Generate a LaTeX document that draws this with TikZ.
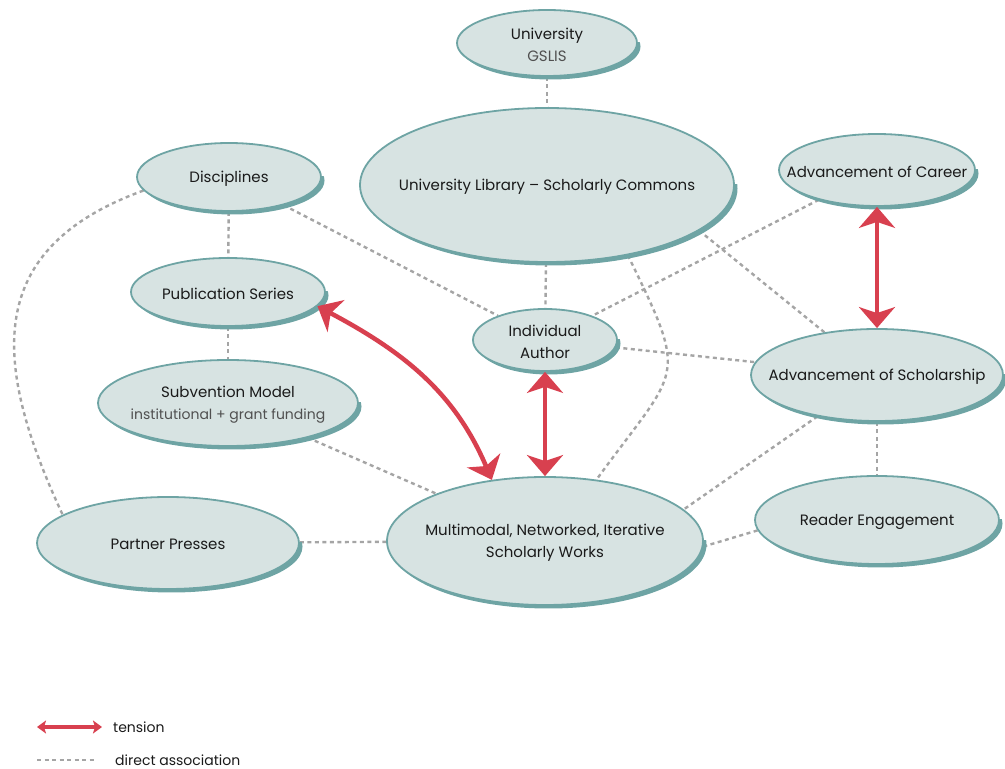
\documentclass[tikz,border=0pt]{standalone}
\usepackage{fontspec}
\setmainfont{Poppins}
\usetikzlibrary{shapes.geometric,arrows.meta,backgrounds}
\definecolor{bubblefill}{HTML}{D7E3E2}
\definecolor{rimteal}{HTML}{6EA4A4}
\definecolor{assocgray}{HTML}{A5A5A5}
\definecolor{tensionred}{HTML}{D8404F}
\definecolor{subgray}{HTML}{505050}
\definecolor{inkblack}{HTML}{1A1A1A}
\newcommand{\subline}[1]{{\color{subgray}#1}}
\newcommand{\smallsubline}[1]{{\color{subgray}\fontsize{14}{20}\selectfont #1}}
\tikzset{
  bubble/.style={ellipse, draw=rimteal, line width=1.8pt, fill=bubblefill, inner sep=0pt},
  bubbletext/.style={align=center, text=inkblack, font=\fontsize{15}{22}\selectfont, inner sep=0pt, yshift=-1.5pt},
  assocline/.style={draw=assocgray, line width=2.4pt, dash pattern=on 4pt off 3.5pt},
  tensionline/.style={draw=tensionred, line width=4.5pt,
    arrows={Stealth[length=21pt,width=36pt,inset=6pt]-Stealth[length=21pt,width=36pt,inset=6pt]}},
  legendtips/.style={line width=4pt,
    arrows={Stealth[length=9pt,width=13pt,inset=2pt]-Stealth[length=9pt,width=13pt,inset=2pt]}},
  legendtext/.style={text=inkblack, font=\fontsize{14}{18}\selectfont, inner sep=0pt}
}
\begin{document}
\begin{tikzpicture}[x=1pt,y=1pt]
\useasboundingbox (0,0) rectangle (1005,769);

% ellipses
\node[bubble, minimum width=180pt, minimum height=66pt,
  label={[bubbletext]center:{University\\\subline{GSLIS}}}] (gslis) at (547,726) {};
\node[bubble, minimum width=374pt, minimum height=154pt,
  label={[bubbletext]center:{University Library -- Scholarly Commons}}] (library) at (547,584) {};
\node[bubble, minimum width=184pt, minimum height=68pt,
  label={[bubbletext]center:Disciplines}] (disc) at (229,592) {};
\node[bubble, minimum width=196pt, minimum height=72pt,
  label={[bubbletext]center:{Advancement of Career}}] (career) at (877,599) {};
\node[bubble, minimum width=194pt, minimum height=68pt,
  label={[bubbletext]center:{Publication Series}}] (series) at (228,477) {};
\node[bubble, minimum width=144pt, minimum height=62pt,
  label={[bubbletext]center:{Individual\\Author}}] (author) at (545,429) {};
\node[bubble, minimum width=260pt, minimum height=86pt,
  label={[bubbletext]center:{Subvention Model\\\smallsubline{institutional + grant funding}}}] (subvention) at (228,366) {};
\node[bubble, minimum width=252pt, minimum height=92pt,
  label={[bubbletext]center:{Advancement of Scholarship}}] (scholarship) at (877,394) {};
\node[bubble, minimum width=262pt, minimum height=92pt,
  label={[bubbletext]center:{Partner Presses}}] (presses) at (168,226) {};
\node[bubble, minimum width=316pt, minimum height=128pt,
  label={[bubbletext]center:{Multimodal, Networked, Iterative\\Scholarly Works}}] (works) at (545,228) {};
\node[bubble, minimum width=244pt, minimum height=88pt,
  label={[bubbletext]center:{Reader Engagement}}] (reader) at (877,249) {};

\begin{pgfonlayer}{background}
% direct associations
\draw[assocline] (gslis) -- (library);
\draw[assocline] (disc) -- (series);
\draw[assocline] (series) -- (subvention);
\draw[assocline] (library) -- (author);
\draw[assocline] (disc) -- (author);
\draw[assocline] (career) -- (author);
\draw[assocline] (author) -- (scholarship);
\draw[assocline] (scholarship) -- (library.north);
\draw[assocline] (scholarship) -- (reader);
\draw[assocline] (scholarship) -- (works.south);
\draw[assocline] (subvention) -- (works);
\draw[assocline] (presses) -- (works);
\draw[assocline] (reader.185) -- (works.-2);
\draw[assocline] (library.-41) to[out=-64, in=54, looseness=1.6] (works.50);
\draw[assocline] (disc.189) to[out=200, in=115, looseness=1.3] (presses.165);
% heavier rim on the lower right
\foreach \n/\rx/\ry in {gslis/90pt/33pt, library/187pt/77pt, disc/92pt/34pt, career/98pt/36pt,
    series/97pt/34pt, author/72pt/31pt, subvention/130pt/43pt, scholarship/126pt/46pt,
    presses/131pt/46pt, works/158pt/64pt, reader/122pt/44pt}{
  \begin{scope}
    \clip ([xshift=-200pt]\n.center) rectangle ([shift={(200pt,-100pt)}]\n.center);
    \fill[rimteal] ([shift={(3.5,-3.5)}]\n.center) ellipse [x radius=\rx, y radius=\ry];
  \end{scope}
}
\end{pgfonlayer}

% tensions
\draw[tensionline] (series.-9) to[out=-28, in=113] (works.131);
\draw[tensionline] (author) -- (works);
\draw[tensionline] (career) -- (scholarship);

% legend
\coordinate (tensA) at (37,42);
\coordinate (tensB) at (102,42);
\draw[tensionline, legendtips] (tensA) -- (tensB);
\node[legendtext, anchor=west] (tensLabel) at (113,42) {tension};
\coordinate (assocA) at (37,9);
\coordinate (assocB) at (95,9);
\draw[assocline] (assocA) -- (assocB);
\node[legendtext, anchor=west] (assocLabel) at (115,9) {direct association};
\end{tikzpicture}
\end{document}
